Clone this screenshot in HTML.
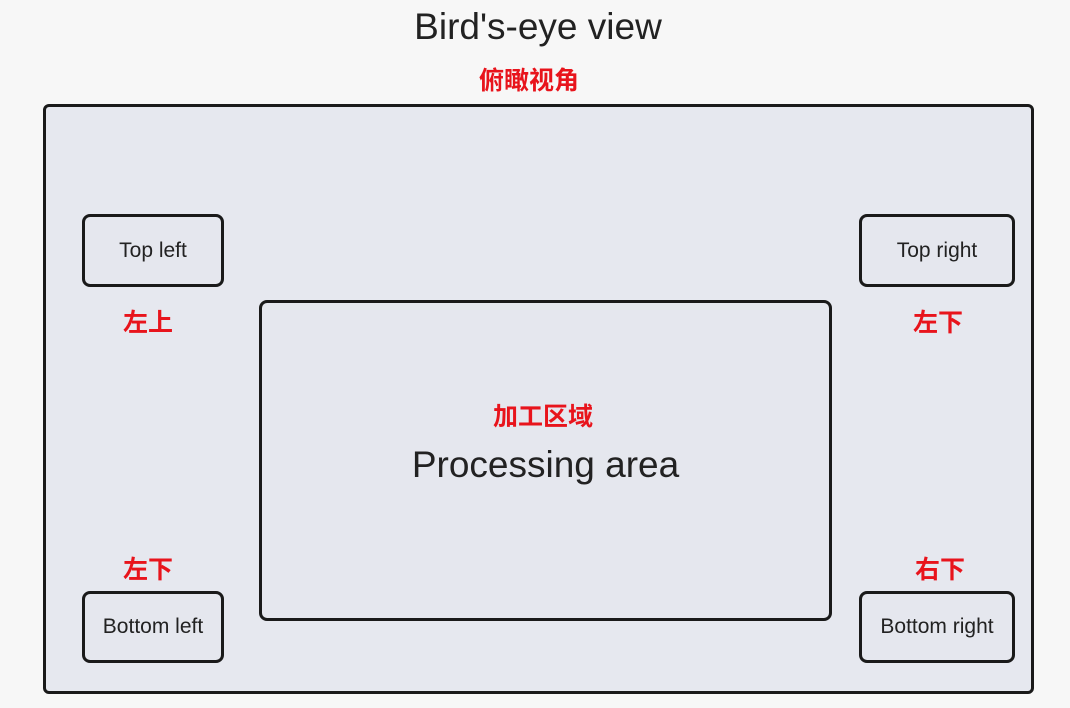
<!DOCTYPE html>
<html><head><meta charset="utf-8"><style>
body{margin:0;width:1070px;height:708px;background:#f7f7f7;position:relative;overflow:hidden;font-family:"Liberation Sans","Noto Sans CJK SC",sans-serif}
.a{position:absolute;box-sizing:border-box}
.box{border:3px solid #1a1a1a;border-radius:8px;background:#e5e7ee;display:flex;align-items:center;justify-content:center;color:#222;font-size:21px}
.r{position:absolute;color:#e8141c;font-weight:bold;font-size:25px;font-family:"Noto Sans CJK SC",sans-serif;transform:translateX(-50%);line-height:1}
</style></head><body>
<div class="a" style="left:0;top:6px;width:1076px;text-align:center;font-size:37px;color:#222">Bird's-eye view</div>
<div class="r" style="left:529px;top:67px">俯瞰视角</div>
<div class="a box" style="left:43px;top:104px;width:991px;height:590px;border-radius:6px;background:#e6e8ef"></div>
<div class="a box" style="left:82px;top:214px;width:142px;height:73px">Top left</div>
<div class="a box" style="left:859px;top:214px;width:156px;height:73px">Top right</div>
<div class="a box" style="left:82px;top:591px;width:142px;height:72px">Bottom left</div>
<div class="a box" style="left:859px;top:591px;width:156px;height:72px">Bottom right</div>
<div class="a box" style="left:259px;top:300px;width:573px;height:321px;font-size:37px;padding-top:8px">Processing area</div>
<div class="r" style="left:148px;top:309px">左上</div>
<div class="r" style="left:938px;top:309px">左下</div>
<div class="r" style="left:543px;top:403px">加工区域</div>
<div class="r" style="left:148px;top:556px">左下</div>
<div class="r" style="left:940px;top:556px">右下</div>
</body></html>
